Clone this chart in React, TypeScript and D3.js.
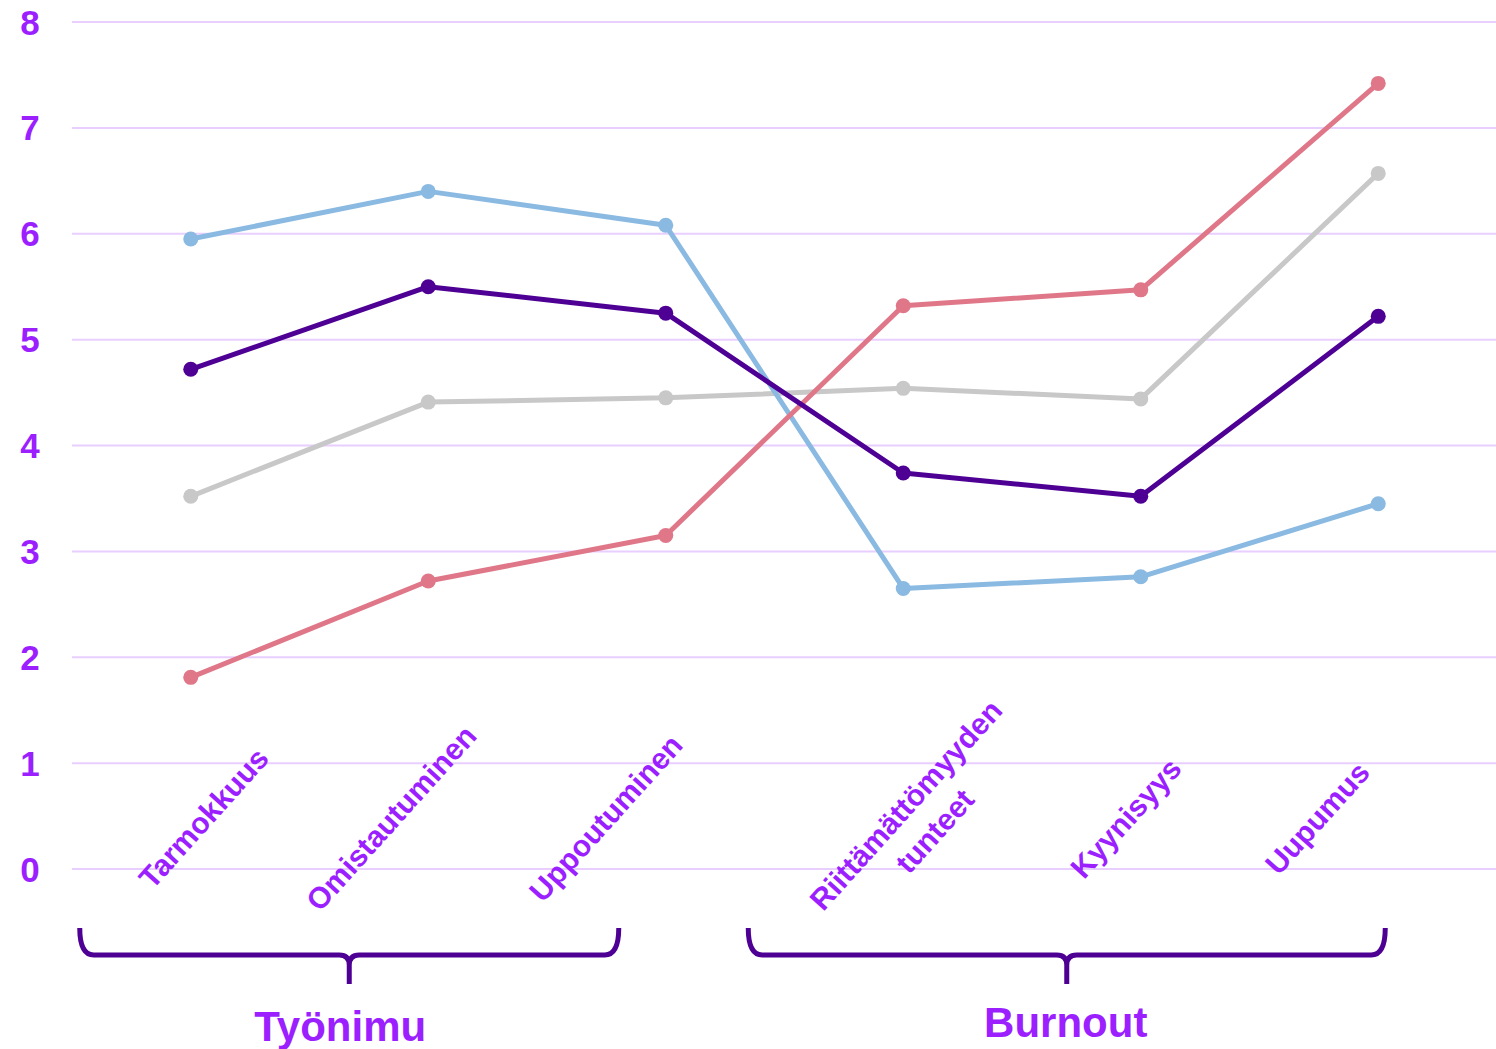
import { useEffect, useRef } from 'react';
import * as d3 from 'd3';

const categories = ['Tarmokkuus', 'Omistautuminen', 'Uppoutuminen', 'Riittämättömyyden tunteet', 'Kyynisyys', 'Uupumus'];
const categoryLines = [['Tarmokkuus'], ['Omistautuminen'], ['Uppoutuminen'], ['Riittämättömyyden', 'tunteet'], ['Kyynisyys'], ['Uupumus']];

const seriesLightBlue = [5.95, 6.40, 6.08, 2.65, 2.76, 3.45];
const seriesPurple = [4.72, 5.50, 5.25, 3.74, 3.52, 5.22];
const seriesGray = [3.52, 4.41, 4.45, 4.54, 4.44, 6.57];
const seriesPink = [1.81, 2.72, 3.15, 5.32, 5.47, 7.42];

const yTicks = [0, 1, 2, 3, 4, 5, 6, 7, 8];

const groups = [
    { name: 'Työnimu', from: 0, to: 2 },
    { name: 'Burnout', from: 3, to: 5 },
];

// layout nudges (labels were hand-placed in the original)
const labelShift = [13, -37, -60, 17, -15, -61];
const braceEdges = [[-111, -47], [-155, 7]];
const groupLabelShift = [-9, -1];

const App = () => {
    const svgRef = useRef<SVGSVGElement | null>(null);

    useEffect(() => {
        const width = 1496;
        const height = 1049;
        const svg = d3.select(svgRef.current);
        svg.selectAll('*').remove();
        svg.attr('width', width).attr('height', height);

        const font = '"Liberation Sans", Arial, sans-serif';
        const labelColor = '#9b1fff';
        const braceColor = '#4e0094';

        const x = d3.scaleBand<string>().domain(categories).range([72, 1497]);
        const cx = (c: string) => (x(c) ?? 0) + x.bandwidth() / 2;
        const y = d3.scaleLinear().domain([0, 8]).range([869, 22]);

        /* grid */
        svg.append('g')
            .selectAll('line')
            .data(yTicks)
            .enter()
            .append('line')
            .attr('x1', 72)
            .attr('x2', width)
            .attr('y1', d => y(d))
            .attr('y2', d => y(d))
            .attr('stroke', '#e8cfff')
            .attr('stroke-width', 2);

        svg.append('g')
            .selectAll('text')
            .data(yTicks)
            .enter()
            .append('text')
            .attr('x', 30)
            .attr('y', d => y(d))
            .attr('dy', '0.36em')
            .attr('text-anchor', 'middle')
            .attr('fill', labelColor)
            .style('font-family', font)
            .style('font-weight', 700)
            .style('font-size', '35px')
            .text(d => d);

        /* series */
        const series = [
            { values: seriesGray, color: '#c8c8c8' },
            { values: seriesLightBlue, color: '#8ab9e1' },
            { values: seriesPink, color: '#df7789' },
            { values: seriesPurple, color: '#4e0094' },
        ];

        const line = d3.line<number>()
            .x((_, i) => cx(categories[i]))
            .y(d => y(d));

        series.forEach(s => {
            const g = svg.append('g');
            g.append('path')
                .attr('d', line(s.values))
                .attr('fill', 'none')
                .attr('stroke', s.color)
                .attr('stroke-width', 5)
                .attr('stroke-linejoin', 'round');
            g.selectAll('circle')
                .data(s.values)
                .enter()
                .append('circle')
                .attr('cx', (_, i) => cx(categories[i]))
                .attr('cy', d => y(d))
                .attr('r', 7.5)
                .attr('fill', s.color);
        });

        /* category labels, rotated */
        const catFont = 30;
        const lineH = 39;
        categories.forEach((c, i) => {
            const lines = categoryLines[i];
            const px = cx(c) + labelShift[i];
            const py = y(0) - 51;
            const t = svg.append('text')
                .attr('transform', `translate(${px},${py}) rotate(-48)`)
                .attr('text-anchor', 'middle')
                .attr('fill', labelColor)
                .style('font-family', font)
                .style('font-weight', 700)
                .style('font-size', `${catFont}px`);
            lines.forEach((l, j) => {
                t.append('tspan')
                    .attr('x', 0)
                    .attr('y', (j - (lines.length - 1) / 2) * lineH)
                    .attr('dy', '0.35em')
                    .text(l);
            });
        });

        /* braces + group labels */
        const top = 928;
        const h = 955;
        const bottom = 984;
        const r = 14;
        groups.forEach((grp, gi) => {
            const x0 = cx(categories[grp.from]) + braceEdges[gi][0];
            const x1 = cx(categories[grp.to]) + braceEdges[gi][1];
            const mid = (x0 + x1) / 2;
            const p = d3.path();
            p.moveTo(x0, top);
            p.quadraticCurveTo(x0, h, x0 + r, h);
            p.lineTo(mid - 10, h);
            p.quadraticCurveTo(mid, h, mid, h + 10);
            p.lineTo(mid, bottom);
            p.moveTo(mid, h + 10);
            p.quadraticCurveTo(mid, h, mid + 10, h);
            p.lineTo(x1 - r, h);
            p.quadraticCurveTo(x1, h, x1, top);
            svg.append('path')
                .attr('d', p.toString())
                .attr('fill', 'none')
                .attr('stroke', braceColor)
                .attr('stroke-width', 5);

            svg.append('text')
                .attr('x', mid + groupLabelShift[gi])
                .attr('y', gi === 0 ? 1041 : 1037)
                .attr('text-anchor', 'middle')
                .attr('fill', labelColor)
                .style('font-family', font)
                .style('font-weight', 700)
                .style('font-size', '42px')
                .text(grp.name);
        });
    }, []);

    return (
        <svg ref={svgRef} style={{ position: 'absolute', left: 0, top: 0, display: 'block' }} />
    );
};

export default App;
